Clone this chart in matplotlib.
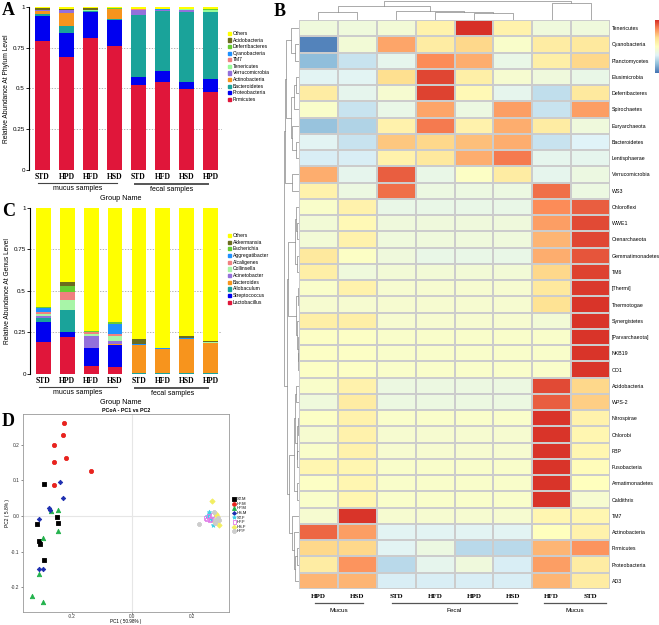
import numpy as np
import matplotlib
matplotlib.use("Agg")
import matplotlib.pyplot as plt
from matplotlib.colors import LinearSegmentedColormap
from matplotlib.transforms import blended_transform_factory as btf

W, H = 659, 625
fig = plt.figure(figsize=(W / 100, H / 100), dpi=100)
plt.rcParams['font.family'] = ['Liberation Sans', 'DejaVu Sans']
SERIF = 'Liberation Serif'

def add_ax(x0, y0, x1, y1):
    return fig.add_axes([x0 / W, 1 - y1 / H, (x1 - x0) / W, (y1 - y0) / H])

def fig_text(x, y, s, **kw):
    return fig.text(x / W, 1 - y / H, s, **kw)

# ---------------- data: panel A (phylum) ----------------
bar_groups = ['STD', 'HPD', 'HFD', 'HSD', 'STD', 'HFD', 'HSD', 'HPD']
firmicutes = [0.79, 0.694, 0.81, 0.76, 0.52, 0.537, 0.494, 0.476]
proteobacteria = [0.153, 0.143, 0.155, 0.158, 0.047, 0.071, 0.047, 0.079]
bacteroidetes = [0.012, 0.045, 0.008, 0.005, 0.382, 0.365, 0.424, 0.41]
actinobacteria = [0.02, 0.077, 0.002, 0.06, 0.002, 0.002, 0.002, 0.002]
verrucomicrobia = [0.002, 0.018, 0.001, 0.002, 0.03, 0.002, 0.015, 0.002]
tenericutes = [0.001, 0.001, 0.001, 0.001, 0.001, 0.004, 0.001, 0.01]
tm7 = [0.001, 0.001, 0.001, 0.001, 0.001, 0.001, 0.001, 0.001]
cyanobacteria = [0.001, 0.001, 0.001, 0.001, 0.001, 0.001, 0.001, 0.001]
deferribacteres = [0.001, 0.001, 0.001, 0.001, 0.001, 0.003, 0.001, 0.003]
acidobacteria = [0.008, 0.002, 0.012, 0.002, 0.001, 0.001, 0.001, 0.001]
others_phylum = [0.011, 0.017, 0.008, 0.009, 0.014, 0.013, 0.013, 0.015]
phylum_names = ['Firmicutes', 'Proteobacteria', 'Bacteroidetes', 'Actinobacteria',
                'Verrucomicrobia', 'Tenericutes', 'TM7', 'Cyanobacteria',
                'Deferribacteres', 'Acidobacteria', 'Others']

# ---------------- data: panel C (genus) ----------------
lactobacillus = [0.194, 0.224, 0.048, 0.04, 0.002, 0.001, 0.001, 0.001]
streptococcus = [0.118, 0.026, 0.106, 0.134, 0.001, 0.001, 0.001, 0.001]
allobaculum = [0.022, 0.134, 0.003, 0.003, 0.006, 0.003, 0.003, 0.004]
bacteroides = [0.002, 0.001, 0.001, 0.001, 0.165, 0.145, 0.205, 0.182]
acinetobacter = [0.015, 0.002, 0.07, 0.02, 0.001, 0.001, 0.001, 0.001]
collinsella = [0.008, 0.06, 0.012, 0.03, 0.001, 0.001, 0.001, 0.001]
alcaligenes = [0.012, 0.046, 0.01, 0.01, 0.001, 0.001, 0.001, 0.001]
aggregatibacter = [0.025, 0.003, 0.004, 0.06, 0.001, 0.001, 0.001, 0.001]
escherichia = [0.006, 0.034, 0.004, 0.012, 0.001, 0.001, 0.001, 0.001]
akkermansia = [0.003, 0.026, 0.002, 0.002, 0.03, 0.001, 0.015, 0.005]
others_genus = [0.595, 0.444, 0.74, 0.688, 0.791, 0.844, 0.77, 0.802]
genus_names = ['Lactobacillus', 'Streptococcus', 'Allobaculum', 'Bacteroides',
               'Acinetobacter', 'Collinsella', 'Alcaligenes', 'Aggregatibacter',
               'Escherichia', 'Akkermansia', 'Others']

# ---------------- data: panel B (heatmap) ----------------
heat_rows = ['Tenericutes', 'Cyanobacteria', 'Planctomycetes', 'Elusimicrobia',
             'Deferribacteres', 'Spirochaetes', 'Euryarchaeota', 'Bacteroidetes',
             'Lentisphaerae', 'Verrucomicrobia', 'WS3', 'Chloroflexi', 'WWE1',
             'Crenarchaeota', 'Gemmatimonadetes', 'TM6', '[Thermi]', 'Thermotogae',
             'Synergistetes', '[Parvarchaeota]', 'NKB19', 'OD1', 'Acidobacteria',
             'WPS-2', 'Nitrospirae', 'Chlorobi', 'FBP', 'Fusobacteria',
             'Armatimonadetes', 'Caldithrix', 'TM7', 'Actinobacteria', 'Firmicutes',
             'Proteobacteria', 'AD3']
heat_cols = ['HPD', 'HSD', 'STD', 'HFD', 'HPD', 'HSD', 'HFD', 'STD']
heat_values = [
    [-0.5, -0.5, -0.4, 0.4, 3.0, 0.4, -0.5, -0.5],
    [-2.8, -0.4, 1.7, 0.6, 1.1, -0.2, 0.6, 0.7],
    [-2.0, -1.3, -0.8, 2.0, 1.6, -0.7, 0.5, 1.1],
    [-0.9, -0.9, 1.0, 2.75, 0.5, -0.3, -0.5, -0.7],
    [0.6, -0.8, -0.3, 2.8, 0.2, -0.8, -1.4, 0.7],
    [-0.2, -1.3, -0.7, 1.7, -0.6, 1.8, -1.3, 1.8],
    [-1.9, -1.6, 0.4, 2.2, 0.4, 1.6, 0.6, -0.5],
    [-0.9, -1.3, 1.3, 1.1, 1.4, 1.6, -1.3, -1.0],
    [-1.1, -1.1, 0.4, 0.7, 1.6, 2.2, -0.8, -0.8],
    [1.6, -0.8, 2.5, -0.7, -0.1, 0.6, -0.8, -0.6],
    [0.4, -0.6, 2.3, -0.6, -0.6, -0.6, 2.3, -0.6],
    [-0.2, 0.4, -0.7, -0.7, -0.7, -0.7, 2.0, 2.5],
    [-0.4, 0.2, -0.5, -0.5, -0.5, -0.5, 1.8, 2.7],
    [-0.4, 0.4, -0.5, -0.5, -0.5, -0.5, 1.5, 2.75],
    [0.7, -0.1, -0.5, -0.7, -0.7, -0.7, 1.6, 2.6],
    [0.5, -0.5, -0.4, -0.4, -0.4, -0.4, 1.1, 2.8],
    [-0.2, 0.4, -0.3, -0.3, -0.3, -0.3, 0.7, 2.9],
    [-0.3, -0.3, -0.3, -0.3, -0.3, -0.3, 0.9, 2.95],
    [0.5, 0.5, -0.3, -0.3, -0.3, -0.3, -0.4, 2.95],
    [-0.1, -0.1, -0.2, -0.2, -0.2, -0.2, -0.2, 2.95],
    [-0.1, -0.1, -0.2, -0.2, -0.2, -0.2, -0.2, 2.95],
    [-0.1, -0.1, -0.2, -0.2, -0.2, -0.2, -0.2, 2.95],
    [-0.2, 0.4, -0.6, -0.6, -0.6, -0.6, 2.7, 1.1],
    [-0.5, 0.6, -0.6, -0.6, -0.6, -0.6, 2.5, 1.2],
    [-0.1, 0.4, -0.2, -0.2, -0.2, -0.2, 2.95, 0.4],
    [-0.3, 0.4, -0.3, -0.3, -0.3, -0.3, 2.95, 0.3],
    [-0.2, 0.4, -0.3, -0.3, -0.3, -0.3, 2.95, 0.3],
    [0.3, 0.3, -0.2, -0.2, -0.2, -0.2, 2.95, 0.1],
    [-0.1, 0.3, -0.2, -0.2, -0.2, -0.2, 2.95, 0.0],
    [-0.2, 0.3, -0.2, -0.2, -0.2, -0.2, 2.95, -0.3],
    [-0.3, 2.95, -0.3, -0.3, -0.3, -0.3, 0.3, 0.3],
    [2.4, 1.8, -0.9, -0.9, -0.9, -0.9, 0.0, 0.4],
    [1.1, 1.1, -0.9, -0.6, -1.5, -1.5, 1.5, 1.9],
    [0.6, 1.9, -1.5, -0.8, -0.5, -1.1, 1.8, 0.6],
    [1.5, 1.5, -1.1, -1.1, -1.1, -1.1, 1.5, 0.6],
]
# dendrogram trees: (left, right, height); leaves are indices
col_tree = (((0, 1, 4.6), (2, (3, (4, 5, 4.0), 4.6), 5.6), 8.6), (6, 7, 10.0), 11.4)
row_tree = (
    (((0, (1, 2, 4.0), 7.5), (((3, 4, 3.0), 5, 5.0), (6, (7, 8, 3.0), 7.0), 8.0), 13.0),
     (9, 10, 6.5), 14.0),
    ((((11, (12, 13, 1.5), 2.5), (14, 15, 2.0), 3.5),
      ((16, 17, 1.0), (18, (19, (20, 21, 0.5), 1.0), 2.0), 3.0), 11.0),
     ((((22, 23, 3.0), ((24, 25, 1.0), (26, 27, 1.5), 2.0), 4.0), (28, 29, 1.5), 5.0),
      (30, (31, ((32, 33, 2.0), 34, 4.0), 5.0), 7.0), 9.5), 12.0),
    15.0)

# ---------------- data: panel D (PCoA) ----------------
pcoa_groups = ['ST.M', 'HF.M', 'HP.M', 'HS.M', 'ST.F', 'HF.F', 'HS.F', 'HP.F']
st_m_x = [-0.293, -0.249, -0.246, -0.316, -0.311, -0.306, -0.293]
st_m_y = [0.089, -0.002, -0.019, -0.023, -0.070, -0.078, -0.123]
hf_m_x = [-0.227, -0.229, -0.261, -0.260, -0.219, -0.138, -0.260]
hf_m_y = [0.262, 0.229, 0.201, 0.152, 0.162, 0.126, 0.087]
hp_m_x = [-0.269, -0.247, -0.247, -0.297, -0.310, -0.332, -0.297]
hp_m_y = [0.014, 0.016, -0.042, -0.061, -0.164, -0.226, -0.243]
hs_m_x = [-0.241, -0.230, -0.277, -0.274, -0.311, -0.311, -0.297]
hs_m_y = [0.095, 0.051, 0.023, 0.017, -0.007, -0.148, -0.148]
st_f_x = [0.255, 0.260, 0.250, 0.265, 0.270, 0.258]
st_f_y = [0.010, -0.005, 0.000, -0.012, -0.025, 0.005]
hf_f_x = [0.250, 0.255, 0.262, 0.268, 0.245, 0.260]
hf_f_y = [-0.010, 0.000, -0.008, 0.002, -0.005, -0.012]
hs_f_x = [0.267, 0.280, 0.285, 0.290, 0.275, 0.283]
hs_f_y = [0.042, 0.005, -0.012, -0.025, -0.018, 0.000]
hp_f_x = [0.222, 0.278, 0.285, 0.272, 0.290, 0.276]
hp_f_y = [-0.023, -0.010, -0.005, 0.010, -0.012, -0.020]

# ---------------- styles ----------------
phylum_colors = ['#E0163A', '#0000F0', '#1AA39A', '#F7941D', '#9370DB', '#98FB98',
                 '#F08080', '#1E90FF', '#66CC33', '#6B6B1E', '#FFFF00']
genus_colors = ['#E0163A', '#0000F0', '#1AA39A', '#F7941D', '#9370DB', '#A8F5A8',
                '#F08080', '#1E90FF', '#66CC33', '#6B6B1E', '#FFFF00']


def stacked(ax, series, colors, names, ylabel, leg_top, leg_step):
    x = np.arange(len(bar_groups))
    bottom = np.zeros(len(x))
    for vals, c in zip(series, colors):
        ax.bar(x, vals, bottom=bottom, width=0.62, color=c, edgecolor='none', zorder=2)
        bottom += np.array(vals)
    ax.set_xlim(-0.5625, 7.48)
    ax.set_ylim(0, 1)
    for g in [0.25, 0.5, 0.75]:
        ax.axhline(g, color='#999999', lw=0.5, ls=(0, (2, 2)), zorder=1)
    for s in ['top', 'right', 'bottom']:
        ax.spines[s].set_visible(False)
    ax.spines['left'].set_linewidth(0.8)
    ax.set_yticks([0, 0.25, 0.5, 0.75, 1])
    ax.set_yticklabels(['0', '0.25', '0.5', '0.75', '1'], fontsize=4.5)
    ax.tick_params(axis='y', length=2, width=0.6, pad=1)
    ax.set_xticks(x)
    ax.set_xticklabels(bar_groups, fontsize=5.5, fontweight='bold', family=SERIF)
    ax.tick_params(axis='x', length=0, pad=2)
    ax.set_ylabel(ylabel, fontsize=4.8, labelpad=2)
    tr = btf(ax.transData, ax.transAxes)
    hpx = ax.bbox.height
    y_line = -13.0 / hpx
    ax.plot([-0.19, 3.1], [y_line, y_line], transform=tr, color='#444444', lw=0.8, clip_on=False)
    ax.plot([3.85, 6.9], [y_line - 1.0 / hpx] * 2, transform=tr, color='#555555', lw=1.4, clip_on=False)
    ax.text(1.45, y_line - 2.0 / hpx, 'mucus samples', transform=tr, fontsize=5, ha='center', va='top')
    ax.text(5.4, y_line - 3.0 / hpx, 'fecal samples', transform=tr, fontsize=5, ha='center', va='top')
    ax.text(3.25, y_line - 12.0 / hpx, 'Group Name', transform=tr, fontsize=5.2, ha='center', va='top')
    # legend (top entry = last series)
    for i, (nm, c) in enumerate(zip(names[::-1], colors[::-1])):
        yy = leg_top + i * leg_step
        fig.patches.append(plt.Rectangle((228 / W, 1 - (yy + 2) / H), 3.2 / W, 3.2 / H,
                                         transform=fig.transFigure, color=c, figure=fig))
        fig_text(233, yy + 0.4, nm, fontsize=3.6, va='center', ha='left')


axA = add_ax(29, 6.7, 222, 170)
stacked(axA, [firmicutes, proteobacteria, bacteroidetes, actinobacteria, verrucomicrobia,
              tenericutes, tm7, cyanobacteria, deferribacteres, acidobacteria, others_phylum],
        phylum_colors, phylum_names, 'Relative Abundance At Phylum Level', 33, 6.6)
fig_text(2, 2, 'A', fontsize=13, fontweight='bold', family=SERIF, ha='left', va='top')

axC = add_ax(30, 207.7, 222, 374)
stacked(axC, [lactobacillus, streptococcus, allobaculum, bacteroides, acinetobacter,
              collinsella, alcaligenes, aggregatibacter, escherichia, akkermansia, others_genus],
        genus_colors, genus_names, 'Relative Abundance At Genus Level', 235, 6.7)
fig_text(2, 203, 'C', fontsize=13, fontweight='bold', family=SERIF, ha='left', va='top')

# ---------------- panel D ----------------
axD = add_ax(23, 414, 229, 612)
axD.axhline(0, color='#e6e6e6', lw=0.8, zorder=0)
axD.axvline(0, color='#e6e6e6', lw=0.8, zorder=0)
pcoa_sets = [(st_m_x, st_m_y, 's', 'black', 9), (hf_m_x, hf_m_y, 'o', '#E8231E', 9),
             (hp_m_x, hp_m_y, '^', '#22B24C', 10), (hs_m_x, hs_m_y, 'D', '#1E2FB0', 5),
             (st_f_x, st_f_y, '*', '#40D0E8', 10), (hf_f_x, hf_f_y, 's', '#E07AE8', 7),
             (hs_f_x, hs_f_y, 'D', '#F2EE60', 7), (hp_f_x, hp_f_y, 'P', '#CCCCCC', 10)]
handles = []
for (xs, ys, m, c, s), nm in zip(pcoa_sets, pcoa_groups):
    fill = 'none' if nm == 'HF.F' else c
    h = axD.scatter(xs, ys, marker=m, s=s, facecolors=fill, edgecolors=c, linewidths=0.6,
                    label=nm, zorder=3)
    handles.append(h)
axD.set_xlim(-0.363, 0.323)
axD.set_ylim(-0.27, 0.287)
axD.set_xticks([-0.2, 0.0, 0.2])
axD.set_xticklabels(['-0.2', '0.0', '0.2'], fontsize=3.3)
axD.set_yticks([-0.2, -0.1, 0.0, 0.1, 0.2])
axD.set_yticklabels(['-0.2', '-0.1', '0.0', '0.1', '0.2'], fontsize=3.5)
axD.tick_params(length=1.5, width=0.4, pad=1, colors='#333333')
axD.tick_params(axis='x', length=1.2, pad=0.3)
for s in axD.spines.values():
    s.set_color('#999999')
    s.set_linewidth(0.6)
fig_text(126, 622, 'PC1 ( 50.98% )', fontsize=3.3, ha='center', va='center')
axD.set_ylabel('PC2 ( 5.8% )', fontsize=3.5, labelpad=1)
axD.set_title('PCoA - PC1 vs PC2', fontsize=3.8, fontweight='bold', pad=1.5)
fig_text(2, 413, 'D', fontsize=13, fontweight='bold', family=SERIF, ha='left', va='top')
leg = fig.legend(handles=handles, loc='upper left', bbox_to_anchor=(231 / W, 1 - 495 / H),
                 fontsize=3, frameon=False, handlelength=0.6, handletextpad=0.3,
                 labelspacing=0.15, borderpad=0, markerscale=0.9)

# ---------------- panel B ----------------
vals = np.array(heat_values)
nr, nc = vals.shape
cmap = LinearSegmentedColormap.from_list('phm', ['#4575B4', '#91BFDB', '#E0F3F8', '#FFFFBF',
                                                  '#FEE090', '#FC8D59', '#D73027'])
axB = add_ax(299, 20, 610, 589)
axB.pcolormesh(np.arange(nc + 1), np.arange(nr + 1), vals, cmap=cmap, vmin=-3, vmax=3,
               edgecolors='#cccccc', linewidth=0.3)
axB.set_xlim(0, nc)
axB.set_ylim(nr, 0)
axB.set_xticks([])
axB.yaxis.tick_right()
axB.set_yticks(np.arange(nr) + 0.5)
axB.set_yticklabels(heat_rows, fontsize=3.8)
axB.tick_params(axis='y', length=0, pad=1.5)
for s in axB.spines.values():
    s.set_visible(False)
trB = btf(axB.transData, axB.transAxes)
hB = axB.bbox.height
for i, lab in enumerate(heat_cols):
    axB.text(i + 0.5, -8.0 / hB, lab, transform=trB, fontsize=5, fontweight='bold',
             family=SERIF, ha='center', va='center')
for (a, b, txt) in [(0.4, 1.65, 'Mucus'), (2.4, 5.6, 'Fecal'), (6.3, 7.9, 'Mucus')]:
    axB.plot([a, b], [-14.0 / hB] * 2, transform=trB, color='#555555', lw=0.9, clip_on=False)
    axB.text((a + b) / 2, -21.0 / hB, txt, transform=trB, fontsize=4.6, ha='center', va='center')
fig_text(274, 3, 'B', fontsize=13, fontweight='bold', family=SERIF, ha='left', va='top')


def draw_tree(ax, node, orient):
    """returns (leaf-position, height) of node, drawing its links"""
    if isinstance(node, int):
        return node + 0.5, 0.0
    left, right, h = node
    p1, h1 = draw_tree(ax, left, orient)
    p2, h2 = draw_tree(ax, right, orient)
    if orient == 'top':
        ax.plot([p1, p1, p2, p2], [h1, h, h, h2], color='#888888', lw=0.5)
    else:
        ax.plot([h1, h, h, h2], [p1, p1, p2, p2], color='#888888', lw=0.5)
    return (p1 + p2) / 2, h


axT = add_ax(299, 0.5, 610, 20)
draw_tree(axT, col_tree, 'top')
axT.set_xlim(0, nc)
axT.set_ylim(0, 11.6)
axT.axis('off')

axL = add_ax(283.5, 20, 299, 589)
draw_tree(axL, row_tree, 'left')
axL.set_ylim(nr, 0)
axL.set_xlim(15.2, 0)
axL.axis('off')

# colorbar (partly cut at right edge as in reference)
axCb = add_ax(655, 20, 662, 73)
grad = np.linspace(3, -3, 100).reshape(-1, 1)
axCb.imshow(grad, aspect='auto', cmap=cmap, vmin=-3, vmax=3)
axCb.axis('off')

fig.savefig('out.png', dpi=100)
